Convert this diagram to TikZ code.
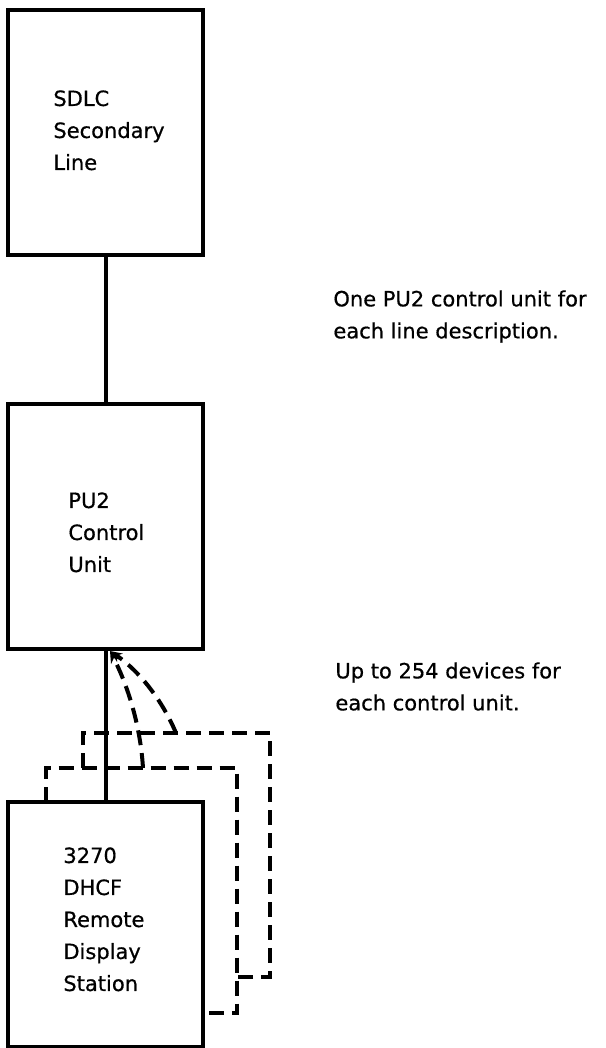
\documentclass[tikz,border=0pt]{standalone}
\usepackage{fontspec}
\setmainfont{DejaVu Sans}
\newfontfamily\labfont[FakeBold=0.6]{DejaVu Sans}
\usetikzlibrary{arrows.meta}
\tikzset{
	box/.style={draw,line width=2pt,minimum width=97.5pt,minimum height=122.5pt,inner sep=0pt},
	txt/.style={anchor=north west,inner sep=0pt,align=left,font=\labfont\fontsize{10.5}{16}\selectfont},
	frame/.style={line width=2pt,dash pattern=on 7.5pt off 4pt},
}
\begin{document}
\begin{tikzpicture}[x=0.5pt,y=-0.5pt]
			\useasboundingbox (0,0) rectangle (605,1048);
			\node[box] (sdlc) at (105.5,132.5) {};
			\node[box] (pu) at (105.5,526) {};
			\node[box] (dsp) at (105.5,924) {};
			\foreach \n/\x/\y/\t in {sdlct/53/90/{SDLC\\Secondary\\Line}, put/68/492/{PU2\\Control\\Unit},
				dspt/63/847/{3270\\DHCF\\Remote\\Display\\Station}, notea/333/290/{One PU2 control unit for\\each line description.},
				noteb/335/662/{Up to 254 devices for\\each control unit.}}{
				\node[txt] (\n) at (\x,\y) {\t};
			}
			\draw[frame] (83,768)--(83,733)--(270,733)--(270,977)--(237,977);
			\draw[frame] (46,801.5)--(46,768)--(237,768)--(237,1013)--(dsp.east|-0,1013);
			\coordinate (tip) at (110,651);
			\draw[frame,-{Stealth[length=6pt,width=5pt]}] (176,733) .. controls (160,695) and (135,668) .. (tip);
			\draw[frame,-{Stealth[length=6pt,width=5pt]}] (143,768) .. controls (140,720) and (125,680) .. (tip);
			\draw[line width=2pt] (sdlc.south)--(pu.north) (pu.south)--(dsp.north);
	\end{tikzpicture}
\end{document}
